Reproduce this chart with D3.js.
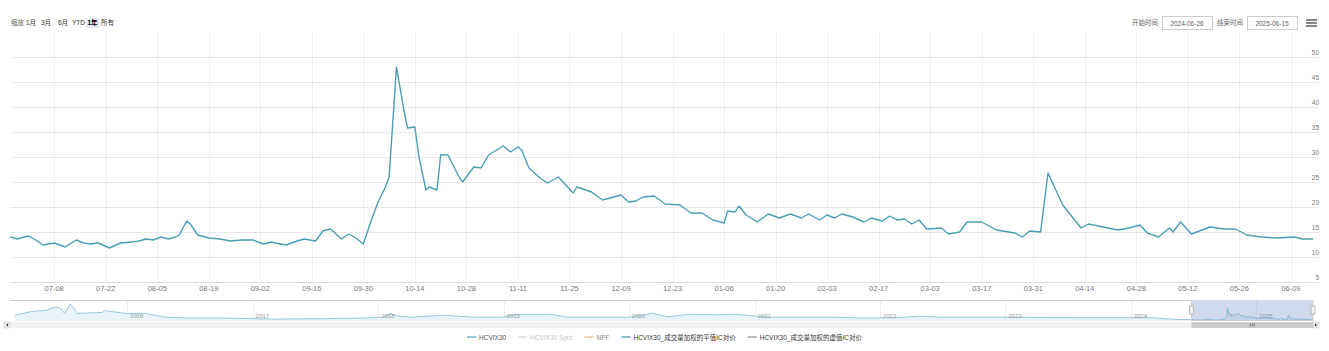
<!DOCTYPE html>
<html>
<head>
<meta charset="utf-8">
<script src="https://cdn.jsdelivr.net/npm/d3@7"></script>
<style>
  body { margin: 0; background: #fff; }
  svg { display: block; }
  text { font-family: "Liberation Sans", "Noto Sans CJK SC", sans-serif; }
</style>
</head>
<body>
<div id="chart"></div>
<script>
// visible range (1年)
var dates = ["2024-06-26","2024-06-28","2024-07-01","2024-07-03","2024-07-05","2024-07-08","2024-07-11","2024-07-14","2024-07-16","2024-07-18",
  "2024-07-20","2024-07-23","2024-07-26","2024-07-29","2024-07-31","2024-08-02","2024-08-04","2024-08-06","2024-08-08","2024-08-10",
  "2024-08-11","2024-08-13","2024-08-14","2024-08-16","2024-08-19","2024-08-22","2024-08-25","2024-08-28","2024-08-31","2024-09-03",
  "2024-09-05","2024-09-06","2024-09-09","2024-09-12","2024-09-14","2024-09-17","2024-09-19","2024-09-21","2024-09-22","2024-09-24",
  "2024-09-26","2024-09-28","2024-09-30","2024-10-02","2024-10-04","2024-10-06","2024-10-07","2024-10-09","2024-10-11","2024-10-12",
  "2024-10-14","2024-10-15","2024-10-17","2024-10-18","2024-10-20","2024-10-21","2024-10-23","2024-10-26","2024-10-27","2024-10-30",
  "2024-11-01","2024-11-03","2024-11-07","2024-11-09","2024-11-11","2024-11-12","2024-11-14","2024-11-17","2024-11-19","2024-11-22",
  "2024-11-26","2024-11-27","2024-12-01","2024-12-04","2024-12-09","2024-12-11","2024-12-13","2024-12-15","2024-12-18","2024-12-21",
  "2024-12-25","2024-12-28","2024-12-31","2025-01-03","2025-01-06","2025-01-07","2025-01-09","2025-01-10","2025-01-12","2025-01-15",
  "2025-01-18","2025-01-21","2025-01-24","2025-01-27","2025-01-29","2025-02-01","2025-02-03","2025-02-05","2025-02-07","2025-02-10",
  "2025-02-13","2025-02-15","2025-02-18","2025-02-20","2025-02-22","2025-02-24","2025-02-26","2025-02-28","2025-03-02","2025-03-06",
  "2025-03-08","2025-03-11","2025-03-13","2025-03-17","2025-03-21","2025-03-26","2025-03-28","2025-03-30","2025-04-02","2025-04-04",
  "2025-04-08","2025-04-13","2025-04-15","2025-04-19","2025-04-23","2025-04-26","2025-04-29","2025-05-01","2025-05-04","2025-05-07",
  "2025-05-08","2025-05-10","2025-05-13","2025-05-18","2025-05-22","2025-05-25","2025-05-28","2025-06-01","2025-06-05","2025-06-10",
  "2025-06-12","2025-06-15"];
var values = [14.0,13.6,14.2,13.4,12.4,12.8,12.0,13.4,12.8,12.6,
  12.8,11.8,12.8,13.0,13.2,13.6,13.4,14.0,13.6,14.0,
  14.4,17.2,16.6,14.4,13.8,13.6,13.2,13.4,13.4,12.6,
  13.0,12.8,12.4,13.2,13.6,13.2,15.2,15.6,15.0,13.6,
  14.6,13.8,12.6,17.0,21.0,24.0,26.0,48.0,39.4,35.8,
  36.0,30.4,23.4,24.0,23.4,30.4,30.4,26.0,25.0,28.0,
  27.8,30.4,32.2,31.0,32.0,31.4,27.8,25.8,24.8,26.0,
  22.8,24.0,23.0,21.4,22.4,21.0,21.2,22.0,22.2,20.6,
  20.4,18.8,18.8,17.4,16.8,19.2,19.0,20.2,18.4,17.0,
  18.6,17.8,18.6,17.8,18.6,17.4,18.4,17.8,18.6,18.0,
  17.0,17.8,17.2,18.2,17.4,17.6,16.6,17.4,15.6,15.8,
  14.6,15.0,17.0,17.0,15.4,14.8,14.0,15.2,15.0,26.8,
  20.4,15.8,16.6,16.0,15.4,15.8,16.4,14.8,14.0,15.8,
  15.0,17.0,14.6,16.0,15.6,15.6,14.4,14.0,13.8,14.0,
  13.6,13.6];

// older history, only shown in the navigator
var navDates = ["2015-02-09","2015-03-29","2015-05-10","2015-06-07","2015-06-22","2015-07-03","2015-07-19","2015-08-09","2015-10-21","2015-10-27",
  "2015-12-27","2016-02-23","2016-04-22","2016-07-10","2016-10-15","2017-03-10","2017-08-03","2017-11-11","2018-01-17","2018-02-07",
  "2018-03-01","2018-04-06","2018-07-12","2018-10-08","2018-12-26","2019-02-11","2019-04-01","2019-05-21","2019-07-07","2019-10-14",
  "2019-12-30","2020-03-09","2020-04-25","2020-06-23","2020-09-09","2020-11-07","2021-02-11","2021-08-26","2021-12-01","2022-02-18",
  "2022-04-26","2022-07-06","2023-01-15","2023-07-30","2024-02-20","2024-05-18"];
var navValues = [26.8,38,40.8,52,46.4,32.4,60.4,32.4,35.2,40.8,
  32.4,32.4,21.2,18.4,18.4,15.6,17,18.4,21.2,32.4,
  24,21.2,26.8,21.2,21.2,29.6,29.6,29.6,21.2,21.2,
  21.2,32.4,22.6,29.6,28.2,29.6,21.2,21.2,18.4,19.8,
  24,21.2,21.2,19.8,19.8,14.5];

var yTicks = [5, 10, 15, 20, 25, 30, 35, 40, 45, 50];
var tickStart = "2024-07-08";
var navStart = "2015-01-25";
var rangeButtons = ["1月", "3月", "6月", "YTD", "1年", "所有"];
var selectedButton = "1年";
var legendNames = ["HCVIX30", "HCVIX30 Spot", "NPF", "HCVIX30_成交量加权的平值IC对价", "HCVIX30_成交量加权的虚值IC对价"];
var legendColors = ["#4a9fb5", "#c9d6e0", "#f2b27e", "#3f8fb0", "#8a8a8a"];
var legendText = ["#555", "#c8c8c8", "#888", "#333", "#333"];

var W = 1329, H = 351;
var parse = d3.timeParse("%Y-%m-%d");
var fmt = d3.timeFormat("%Y-%m-%d");

var data = dates.map(function(d, i) { return { date: parse(d), value: values[i] }; });
var navData = navDates.map(function(d, i) { return { date: parse(d), value: navValues[i] }; }).concat(data);

var svg = d3.select("#chart").append("svg")
    .attr("width", W)
    .attr("height", H);

var plotL = 10, plotR = 1313, plotT = 32, plotB = 282;

var x = d3.scaleTime().domain([data[0].date, data[data.length - 1].date]).range([plotL, plotR]);
var y = d3.scaleLinear().domain([5, 55]).range([plotB, plotT]);

// ticks every two weeks on Mondays
var firstTick = parse(tickStart);
var xTicks = d3.timeMonday.range(firstTick, x.domain()[1]).filter(function(d) {
  return Math.round(d3.timeDay.count(firstTick, d)) % 14 === 0;
});

// grid
svg.append("g").selectAll("line")
    .data(xTicks)
    .enter().append("line")
    .attr("x1", function(d) { return Math.round(x(d)) + 0.5; })
    .attr("x2", function(d) { return Math.round(x(d)) + 0.5; })
    .attr("y1", plotT)
    .attr("y2", plotB)
    .style("stroke", "#eeeeee");

svg.append("g").selectAll("line")
    .data(yTicks)
    .enter().append("line")
    .attr("x1", plotL)
    .attr("x2", plotR + 6)
    .attr("y1", function(d) { return Math.round(y(d)) + 0.5; })
    .attr("y2", function(d) { return Math.round(y(d)) + 0.5; })
    .style("stroke", "#e8e8e8");

svg.append("line")
    .attr("x1", plotL).attr("x2", plotR + 6)
    .attr("y1", plotB + 0.5).attr("y2", plotB + 0.5)
    .style("stroke", "#d8dee8");

// y labels inside the plot, right side
svg.append("g").selectAll("text")
    .data(yTicks)
    .enter().append("text")
    .attr("x", 1319)
    .attr("y", function(d) { return y(d) - 2; })
    .attr("text-anchor", "end")
    .style("font-size", "6.5px")
    .style("fill", "#777")
    .text(function(d) { return d; });

// x labels
var tickFmt = d3.timeFormat("%m-%d");
svg.append("g").selectAll("text")
    .data(xTicks)
    .enter().append("text")
    .attr("x", function(d) { return x(d); })
    .attr("y", 291)
    .attr("text-anchor", "middle")
    .style("font-size", "7.5px")
    .style("fill", "#777")
    .text(function(d) { return tickFmt(d); });

// main line
var line = d3.line()
    .x(function(d) { return x(d.date); })
    .y(function(d) { return y(d.value); });

svg.append("path")
    .datum(data)
    .attr("d", line)
    .style("fill", "none")
    .style("stroke", "#4a9fb5")
    .style("stroke-width", 1.4)
    .style("stroke-linejoin", "round");

// navigator
var navTop = 300, navBottom = 321;
var xn = d3.scaleTime().domain([parse(navStart), data[data.length - 1].date]).range([plotL, plotR]);
var yn = d3.scaleLinear().domain([10, 63]).range([navBottom, navTop + 3]);

var navYears = xn.ticks(d3.timeYear.every(1));
svg.append("g").selectAll("line")
    .data(navYears)
    .enter().append("line")
    .attr("x1", function(d) { return Math.round(xn(d)) + 0.5; })
    .attr("x2", function(d) { return Math.round(xn(d)) + 0.5; })
    .attr("y1", navTop)
    .attr("y2", navBottom)
    .style("stroke", "#eeeeee");

svg.append("path")
    .datum(navData)
    .attr("d", d3.area()
        .x(function(d) { return xn(d.date); })
        .y0(navBottom)
        .y1(function(d) { return yn(d.value); }))
    .style("fill", "#e9f3f8");

svg.append("path")
    .datum(navData)
    .attr("d", d3.line()
        .x(function(d) { return xn(d.date); })
        .y(function(d) { return yn(d.value); }))
    .style("fill", "none")
    .style("stroke", "#8ec3d6")
    .style("stroke-width", 0.9);

svg.append("g").selectAll("text")
    .data(navYears)
    .enter().append("text")
    .attr("x", function(d) { return xn(d) + 3; })
    .attr("y", 318)
    .style("font-size", "6px")
    .style("fill", "#999")
    .text(function(d) { return d3.timeFormat("%Y")(d); });

var m0 = xn(data[0].date), m1 = xn(data[data.length - 1].date);
svg.append("rect")
    .attr("x", m0).attr("y", navTop)
    .attr("width", m1 - m0).attr("height", navBottom - navTop)
    .style("fill", "rgba(102,133,194,0.3)");

svg.append("path")
    .attr("d", "M" + plotL + "," + (navTop + 0.5) + "H" + m0 + "V" + (navBottom - 0.5) + "H" + m1 + "V" + (navTop + 0.5) + "H" + plotR)
    .style("fill", "none")
    .style("stroke", "#cccccc");

[m0, m1].forEach(function(mx) {
  svg.append("rect")
      .attr("x", mx - 2).attr("y", 306)
      .attr("width", 4).attr("height", 8)
      .style("fill", "#f2f2f2")
      .style("stroke", "#999")
      .style("stroke-width", 0.6);
});

// scrollbar
svg.append("rect")
    .attr("x", plotL).attr("y", navBottom + 1)
    .attr("width", plotR - plotL).attr("height", 6)
    .style("fill", "#f2f2f2");
svg.append("rect")
    .attr("x", m0).attr("y", navBottom + 1)
    .attr("width", m1 - m0).attr("height", 6)
    .style("fill", "#cccccc");
svg.append("path")
    .attr("d", "M" + ((m0 + m1) / 2 - 2) + "," + (navBottom + 2.5) + "v3M" + ((m0 + m1) / 2) + "," + (navBottom + 2.5) + "v3M" + ((m0 + m1) / 2 + 2) + "," + (navBottom + 2.5) + "v3")
    .style("stroke", "#333")
    .style("stroke-width", 0.6);
[[plotL - 6, "M" + (plotL - 2) + "," + (navBottom + 2.5) + "l-2,1.5l2,1.5z"],
 [plotR, "M" + (plotR + 2) + "," + (navBottom + 2.5) + "l2,1.5l-2,1.5z"]].forEach(function(b) {
  svg.append("rect")
      .attr("x", b[0]).attr("y", navBottom + 1)
      .attr("width", 6).attr("height", 6)
      .style("fill", "#e6e6e6")
      .style("stroke", "#cccccc")
      .style("stroke-width", 0.5);
  svg.append("path").attr("d", b[1]).style("fill", "#333");
});

// range selector
svg.append("text")
    .attr("x", 11).attr("y", 25)
    .style("font-size", "6.5px")
    .style("fill", "#666")
    .text("缩放");
var btnX = [31, 46, 63, 78.5, 92.5, 107.5];
rangeButtons.forEach(function(b, i) {
  if (b === selectedButton) {
    svg.append("rect")
        .attr("x", btnX[i] - 7).attr("y", 18)
        .attr("width", 14).attr("height", 10)
        .attr("rx", 1)
        .style("fill", "#e6ebf5");
  }
  svg.append("text")
      .attr("x", btnX[i]).attr("y", 25)
      .attr("text-anchor", "middle")
      .style("font-size", "6.5px")
      .style("font-weight", b === selectedButton ? "bold" : "normal")
      .style("fill", b === selectedButton ? "#000" : "#333")
      .text(b);
});

// date inputs
var inputs = [["开始时间", 1162, data[0].date], ["结束时间", 1247, data[data.length - 1].date]];
inputs.forEach(function(inp) {
  svg.append("text")
      .attr("x", inp[1] - 4).attr("y", 25)
      .attr("text-anchor", "end")
      .style("font-size", "6.5px")
      .style("fill", "#666")
      .text(inp[0]);
  svg.append("rect")
      .attr("x", inp[1] + 0.5).attr("y", 16.5)
      .attr("width", 50).attr("height", 13)
      .style("fill", "#fff")
      .style("stroke", "#cccccc");
  svg.append("text")
      .attr("x", inp[1] + 25).attr("y", 25.5)
      .attr("text-anchor", "middle")
      .style("font-size", "6.5px")
      .style("fill", "#666")
      .text(fmt(inp[2]));
});

// export menu icon
[20, 23, 26].forEach(function(yy) {
  svg.append("line")
      .attr("x1", 1306).attr("x2", 1317)
      .attr("y1", yy).attr("y2", yy)
      .style("stroke", "#666")
      .style("stroke-width", 1.6);
});

// legend
var legend = svg.append("g");
var lx = 0;
legendNames.forEach(function(name, i) {
  var g = legend.append("g").attr("transform", "translate(" + lx + ",0)");
  g.append("line")
      .attr("x1", 0).attr("x2", 9)
      .attr("y1", 337).attr("y2", 337)
      .style("stroke", legendColors[i])
      .style("stroke-width", 1.2);
  var t = g.append("text")
      .attr("x", 12).attr("y", 339.5)
      .style("font-size", "6.5px")
      .style("fill", legendText[i])
      .text(name);
  lx += 12 + t.node().getComputedTextLength() + 12;
});
legend.attr("transform", "translate(" + (W / 2 - (lx - 12) / 2) + ",0)");
</script>
</body>
</html>
